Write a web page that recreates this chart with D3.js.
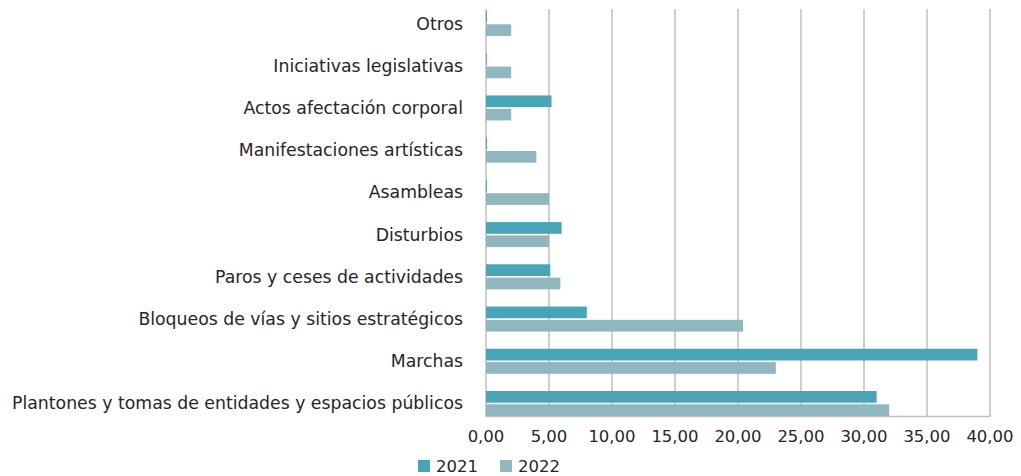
<!DOCTYPE html>
<html lang="es">
<head>
<meta charset="utf-8">
<title>Tipos de acción colectiva 2021-2022</title>
<script src="https://d3js.org/d3.v7.min.js"></script>
<style>
  body { margin: 0; background: #fff; }
  svg text { font-family: "DejaVu Sans", "Lato", sans-serif; fill: #262626; }
</style>
</head>
<body>
<div id="chart"></div>
<script>
// categories from top to bottom
var categories = [
  "Otros",
  "Iniciativas legislativas",
  "Actos afectación corporal",
  "Manifestaciones artísticas",
  "Asambleas",
  "Disturbios",
  "Paros y ceses de actividades",
  "Bloqueos de vías y sitios estratégicos",
  "Marchas",
  "Plantones y tomas de entidades y espacios públicos"
];
var years = ["2021", "2022"];
var values2021 = [0, 0, 5.2, 0, 0, 6.0, 5.1, 8.0, 39.0, 31.0];
var values2022 = [2.0, 2.0, 2.0, 4.0, 5.0, 5.0, 5.9, 20.4, 23.0, 32.0];
var xTicks = [0, 5, 10, 15, 20, 25, 30, 35, 40];
var colors = { "2021": "#49a4b6", "2022": "#8fb7bd" };

var width = 1021, height = 476;
var svg = d3.select("#chart").append("svg")
  .attr("width", width)
  .attr("height", height);

var x = d3.scaleLinear().domain([0, 40]).range([486, 990]);
var y = d3.scaleBand().domain(categories).range([11, 416]).paddingInner(0.407).paddingOuter(0);
var ySub = d3.scaleBand().domain(years).range([0, y.bandwidth()]).paddingInner(0.12);

// gridlines
svg.append("g").selectAll("line")
  .data(xTicks)
  .join("line")
  .attr("x1", d => x(d)).attr("x2", d => x(d))
  .attr("y1", 9).attr("y2", 417)
  .attr("stroke", "#bfbfbf")
  .attr("stroke-width", 1.5);

// bottom axis line
svg.append("line")
  .attr("x1", x(0)).attr("x2", x(40))
  .attr("y1", 416.5).attr("y2", 416.5)
  .attr("stroke", "#bfbfbf")
  .attr("stroke-width", 1.5);

var rows = categories.map(function(c, i) {
  return { cat: c, vals: [
    { year: "2021", v: values2021[i] },
    { year: "2022", v: values2022[i] }
  ]};
});

var groups = svg.append("g").selectAll("g")
  .data(rows)
  .join("g")
  .attr("transform", d => "translate(0," + y(d.cat) + ")");

groups.selectAll("rect")
  .data(d => d.vals.map(v => Object.assign({ cat: d.cat }, v)))
  .join("rect")
  .attr("x", x(0))
  .attr("y", d => ySub(d.year))
  .attr("height", ySub.bandwidth())
  .attr("width", d => Math.max(x(d.v) - x(0), 1)) // zero values show as a thin sliver
  .attr("fill", d => (d.v === 0 && d.cat === "Iniciativas legislativas") ? "#d57ab4" : colors[d.year]);

// category labels
svg.append("g").selectAll("text")
  .data(categories)
  .join("text")
  .attr("x", 463)
  .attr("y", d => y(d) + y.bandwidth() / 2 + 1)
  .attr("text-anchor", "end")
  .attr("dominant-baseline", "middle")
  .attr("font-size", "17.3px")
  .text(d => d);

// tick labels
var fmt = d3.format(".2f");
svg.append("g").selectAll("text")
  .data(xTicks)
  .join("text")
  .attr("x", d => x(d))
  .attr("y", 437)
  .attr("text-anchor", "middle")
  .attr("dominant-baseline", "middle")
  .attr("font-size", "16.5px")
  .text(d => fmt(d).replace(".", ","));

// legend
var legend = svg.append("g").selectAll("g")
  .data(years)
  .join("g")
  .attr("transform", (d, i) => "translate(" + (418 + i * 82) + ",460)");
legend.append("rect")
  .attr("width", 12).attr("height", 12)
  .attr("fill", d => colors[d]);
legend.append("text")
  .attr("x", 18).attr("y", 7)
  .attr("dominant-baseline", "middle")
  .attr("font-size", "16.5px")
  .text(d => d);
</script>
</body>
</html>
